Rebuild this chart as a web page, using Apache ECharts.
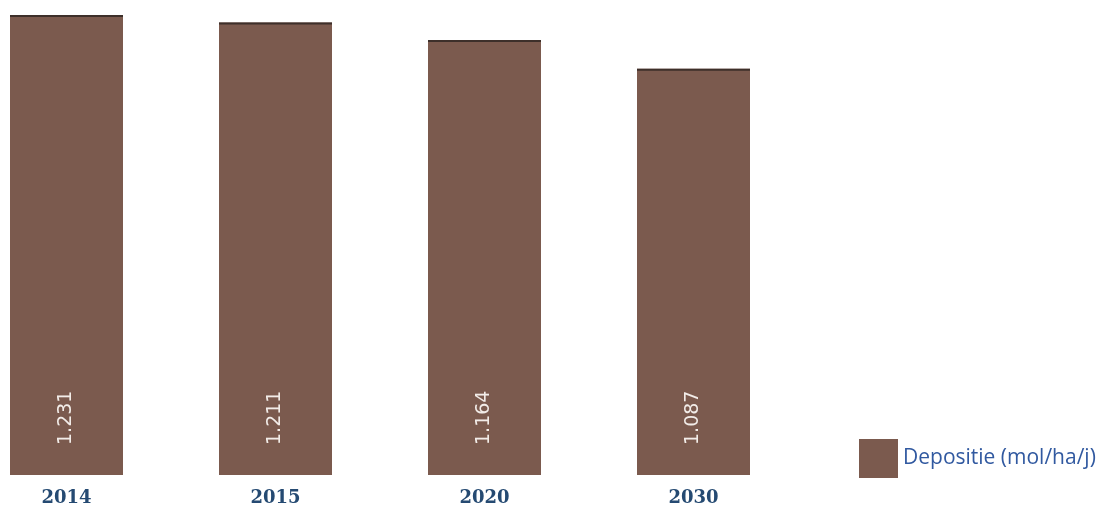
<!DOCTYPE html>
<html>
<head>
<meta charset="utf-8">
<script src="https://cdn.jsdelivr.net/npm/echarts@6/dist/echarts.min.js"></script>
<style>
  html, body { margin: 0; padding: 0; background: #fff; }
  #chart { width: 1105px; height: 507px; }
</style>
</head>
<body>
<div id="chart"></div>
<script>
//  Data

var years = ['2014', '2015', '2020', '2030'];
var depositie = [1231, 1211, 1164, 1087];
var seriesName = 'Depositie (mol/ha/j)';

//  Chart

var myChart = echarts.init(document.getElementById('chart'), null, {renderer: 'canvas'});

var fmt = function(v) {
  return String(v).replace(/\B(?=(\d{3})+(?!\d))/g, '.');
};

var option = {
  animation: false,
  grid: {
    left: -38,
    width: 836,
    top: 15,
    bottom: 32,
    outerBoundsMode: 'none',
    containLabel: false
  },
  legend: {
    data: [seriesName],
    left: 854,
    top: 434,
    itemWidth: 39,
    itemHeight: 39,
    itemGap: 10,
    icon: 'rect',
    textStyle: {
      color: '#3159a0',
      fontSize: 21,
      fontFamily: 'Open Sans',
      padding: [8, 0, 0, 0]
    }
  },
  xAxis: {
    type: 'category',
    data: years,
    axisLine: {show: false},
    axisTick: {show: false},
    axisLabel: {
      color: '#254a72',
      fontSize: 18,
      fontWeight: 'bold',
      fontFamily: 'DejaVu Serif',
      margin: 14
    }
  },
  yAxis: {
    type: 'value',
    min: 0,
    max: 1231,
    show: false,
    splitLine: {show: false}
  },
  series: [{
    name: seriesName,
    type: 'bar',
    data: depositie,
    barWidth: 113,
    itemStyle: {
      color: '#7b5a4e'
    },
    label: {
      show: true,
      position: 'insideBottom',
      distance: 30,
      rotate: 90,
      align: 'left',
      verticalAlign: 'middle',
      color: '#f2ece8',
      fontSize: 19,
      fontFamily: 'DejaVu Sans',
      formatter: function(p) { return fmt(p.value); }
    }
  }, {
    name: 'top',
    type: 'pictorialBar',
    data: depositie,
    symbol: 'rect',
    symbolSize: [113, 2],
    symbolPosition: 'end',
    symbolOffset: [0, 0],
    itemStyle: {color: '#3d2f2a'},
    z: 3
  }]
};
myChart.setOption(option);
</script>
</body>
</html>
